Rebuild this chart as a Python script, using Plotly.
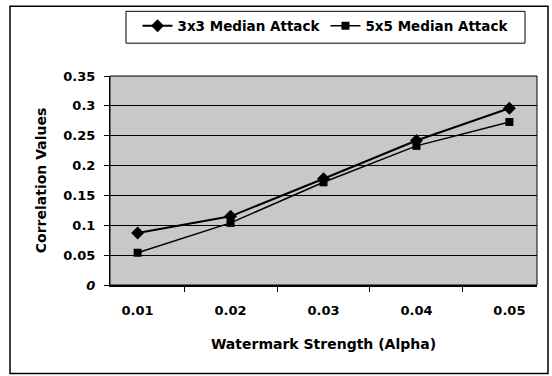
import plotly.graph_objects as go

alpha = ["0.01", "0.02", "0.03", "0.04", "0.05"]
median3 = [0.087, 0.115, 0.178, 0.242, 0.296]
median5 = [0.054, 0.104, 0.172, 0.233, 0.273]
ytick_vals = [0, 0.05, 0.1, 0.15, 0.2, 0.25, 0.3, 0.35]
ytick_text = ["<i>0</i>", "0.05", "0.1", "0.15", "0.2", "0.25", "0.3", "0.35"]

W, H = 552, 376
L, R, T, B = 110, 15, 75, 91
FAM = "DejaVu Sans, Liberation Sans, sans-serif"

fig = go.Figure()
fig.add_trace(go.Scatter(x=alpha, y=median3, mode="lines+markers", name="3x3 Median Attack",
                         line=dict(color="black", width=2),
                         marker=dict(symbol="diamond", size=10, color="black")))
fig.add_trace(go.Scatter(x=alpha, y=median5, mode="lines+markers", name="5x5 Median Attack",
                         line=dict(color="black", width=1.5),
                         marker=dict(symbol="square", size=8, color="black")))

pw = W - L - R
ph = H - T - B

def px_x(x):
    return (x - L) / pw

def px_y(y):
    return (H - B - y) / ph

fig.update_layout(
    width=W, height=H,
    margin=dict(l=L, r=R, t=T, b=B),
    paper_bgcolor="white",
    plot_bgcolor="#c8c8c8",
    font=dict(family=FAM, size=13, color="black", weight="bold"),
    showlegend=True,
    legend=dict(orientation="h", x=px_x(325.5), xanchor="center", y=px_y(26), yanchor="middle",
                borderwidth=0, bgcolor="rgba(0,0,0,0)",
                font=dict(family=FAM, size=13.5, color="black", weight="bold"),
                tracegroupgap=0),
    xaxis=dict(type="category", tickson="boundaries", ticks="outside", ticklen=5, tickcolor="black",
               showline=True, linecolor="black", linewidth=2, mirror=False, showgrid=False,
               ticklabelstandoff=12,
               tickfont=dict(family=FAM, size=13, color="black", weight="bold"),
               title=dict(text="Watermark Strength (Alpha)", standoff=23,
                          font=dict(family=FAM, size=14, color="black", weight="bold"))),
    yaxis=dict(range=[0, 0.35], tickvals=ytick_vals, ticktext=ytick_text, ticks="outside", ticklen=5,
               tickcolor="black", showline=True, linecolor="black", linewidth=1,
               showgrid=True, gridcolor="black", gridwidth=1, zeroline=False,
               ticklabelstandoff=6,
               tickfont=dict(family=FAM, size=13, color="black", weight="bold"),
               title=dict(text="Correlation Values", standoff=13,
                          font=dict(family=FAM, size=14, color="black", weight="bold"))),
)

# plot area border
fig.add_shape(type="rect", xref="paper", yref="paper", x0=0, x1=1, y0=0, y1=1,
              line=dict(color="black", width=1), layer="above")
# legend box
fig.add_shape(type="rect", xref="paper", yref="paper",
              x0=px_x(126), x1=px_x(525), y0=px_y(42), y1=px_y(10),
              line=dict(color="black", width=1), fillcolor="white", layer="below")
# outer chart border
fig.add_shape(type="rect", xref="paper", yref="paper",
              x0=px_x(10), x1=px_x(548), y0=px_y(374), y1=px_y(5),
              line=dict(color="black", width=1.5))

fig.write_html("out.html")
